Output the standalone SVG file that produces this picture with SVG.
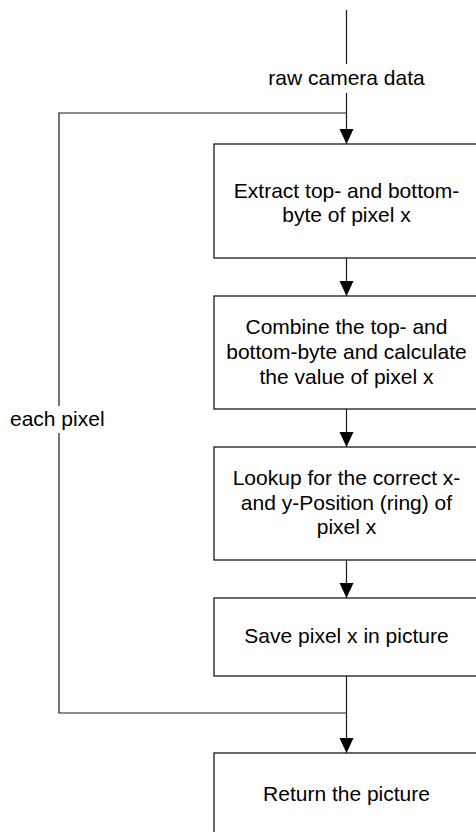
<svg xmlns="http://www.w3.org/2000/svg" width="476" height="832" viewBox="0 0 476 832">
  <style>
    .box { fill: #ffffff; stroke: #1a1a1a; stroke-width: 1.3; }
    .edge { fill: none; stroke: #1a1a1a; stroke-width: 1.2; }
    .label { font-family: "Liberation Sans", Arial, sans-serif; font-size: 21px; fill: #000000; }
    .mid { text-anchor: middle; }
  </style>
  <defs>
    <marker id="arrow" markerUnits="userSpaceOnUse" markerWidth="16" markerHeight="16" viewBox="0 -8 16 16" refX="15" refY="0" orient="auto">
      <path d="M0,-7 L15,0 L0,7 z" fill="#000000"/>
    </marker>
  </defs>
  <rect width="476" height="832" fill="#ffffff"/>

  <g id="connectors">
    <!-- input line, interrupted by its label -->
    <line class="edge" x1="346.5" y1="10" x2="346.5" y2="64"/>
    <line class="edge" x1="346.5" y1="93" x2="346.5" y2="144" marker-end="url(#arrow)"/>
    <text class="label mid" x="346.5" y="85">raw camera data</text>
    <!-- loop back for every pixel -->
    <polyline class="edge" points="346.5,713 59,713 59,433"/>
    <polyline class="edge" points="59,406 59,113 346.5,113"/>
    <text class="label" x="10" y="426">each pixel</text>
    <!-- step to step -->
    <line class="edge" x1="346.5" y1="258" x2="346.5" y2="296" marker-end="url(#arrow)"/>
    <line class="edge" x1="346.5" y1="409" x2="346.5" y2="447" marker-end="url(#arrow)"/>
    <line class="edge" x1="346.5" y1="560" x2="346.5" y2="598" marker-end="url(#arrow)"/>
    <line class="edge" x1="346.5" y1="676" x2="346.5" y2="753" marker-end="url(#arrow)"/>
  </g>

  <g id="extract">
    <rect class="box" x="214" y="144" width="264" height="114"/>
    <text class="label mid" x="346.5" y="198">Extract top- and bottom-</text>
    <text class="label mid" x="346.5" y="222">byte of pixel x</text>
  </g>

  <g id="combine">
    <rect class="box" x="214" y="296" width="264" height="113"/>
    <text class="label mid" x="346.5" y="334">Combine the top- and</text>
    <text class="label mid" x="346.5" y="359">bottom-byte and calculate</text>
    <text class="label mid" x="346.5" y="384">the value of pixel x</text>
  </g>

  <g id="lookup">
    <rect class="box" x="214" y="447" width="264" height="113"/>
    <text class="label mid" x="346.5" y="485">Lookup for the correct x-</text>
    <text class="label mid" x="346.5" y="510">and y-Position (ring) of</text>
    <text class="label mid" x="346.5" y="534">pixel x</text>
  </g>

  <g id="save">
    <rect class="box" x="214" y="598" width="264" height="78"/>
    <text class="label mid" x="346.5" y="643">Save pixel x in picture</text>
  </g>

  <g id="return">
    <rect class="box" x="214" y="753" width="264" height="120"/>
    <text class="label mid" x="346.5" y="801">Return the picture</text>
  </g>
</svg>
